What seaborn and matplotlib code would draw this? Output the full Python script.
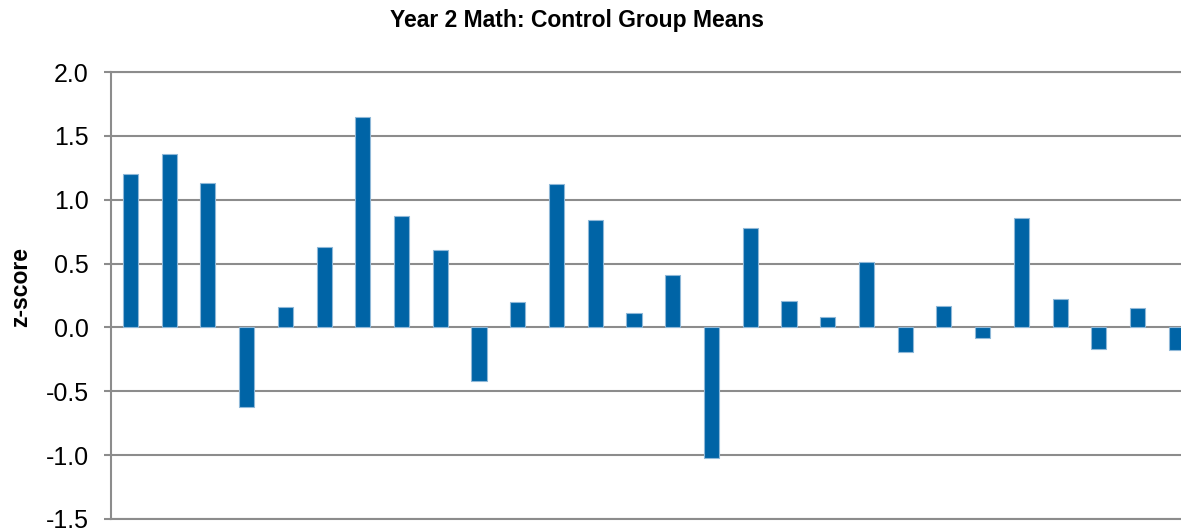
import numpy as np
import pandas as pd
import matplotlib
matplotlib.use("Agg")
import matplotlib.pyplot as plt
import seaborn as sns

# -----------------------------------
# Data
# -----------------------------------
groups = [str(i) for i in range(1, 29)]
z_means = [1.20, 1.36, 1.13, -0.62, 0.16, 0.63, 1.65, 0.87, 0.61, -0.42,
           0.20, 1.12, 0.84, 0.11, 0.41, -1.02, 0.78, 0.21, 0.08, 0.51,
           -0.19, 0.17, -0.08, 0.86, 0.22, -0.17, 0.15, -0.18]
y_ticks = [-1.5, -1.0, -0.5, 0.0, 0.5, 1.0, 1.5, 2.0]

df = pd.DataFrame({"group": groups, "z": z_means})

# -----------------------------------
# Style
# -----------------------------------
sns.set_theme(style="white")
plt.rcParams["font.family"] = ["Liberation Sans", "DejaVu Sans"]
plt.rcParams["text.color"] = "black"
plt.rcParams["axes.labelcolor"] = "black"

BAR_COLOR = "#0064a6"
EDGE_COLOR = "#8fb8d8"
GRID_COLOR = "#8c8c8c"

fig = plt.figure(figsize=(11.81, 5.31), dpi=100)
ax = fig.add_axes([111 / 1181, 12 / 531, 1070 / 1181, 447 / 531])

sns.barplot(data=df, x="group", y="z", color=BAR_COLOR, width=0.39,
            edgecolor=EDGE_COLOR, linewidth=0.8, saturation=1, ax=ax)

ax.set_ylim(y_ticks[0], y_ticks[-1])
ax.set_yticks(y_ticks)
ax.set_yticklabels([f"{t:.1f}" for t in y_ticks], fontsize=18)
# axis continues past the right edge of the picture
ax.set_xlim(-0.5, -0.5 + 1070 / 38.74)
ax.set_xticks([])
ax.set_xlabel("")
ax.set_ylabel("z-score", fontsize=16.5, fontweight="bold", color="black")
ax.yaxis.set_label_coords(-0.074, 0.52)

ax.set_axisbelow(True)
ax.yaxis.grid(True, color=GRID_COLOR, linewidth=1.5)
ax.tick_params(axis="y", direction="out", length=5, width=1.5,
               color=GRID_COLOR, pad=11, left=True, labelcolor="black")
for side in ["top", "bottom", "left"]:
    ax.spines[side].set_visible(True)
    ax.spines[side].set_color(GRID_COLOR)
    ax.spines[side].set_linewidth(1.5)
ax.spines["right"].set_visible(False)

fig.text(577 / 1181, 1 - 21 / 531, "Year 2 Math: Control Group Means",
         ha="center", va="center", fontsize=16.5, fontweight="bold",
         color="black")

fig.savefig("out.png", dpi=100)
plt.close(fig)
